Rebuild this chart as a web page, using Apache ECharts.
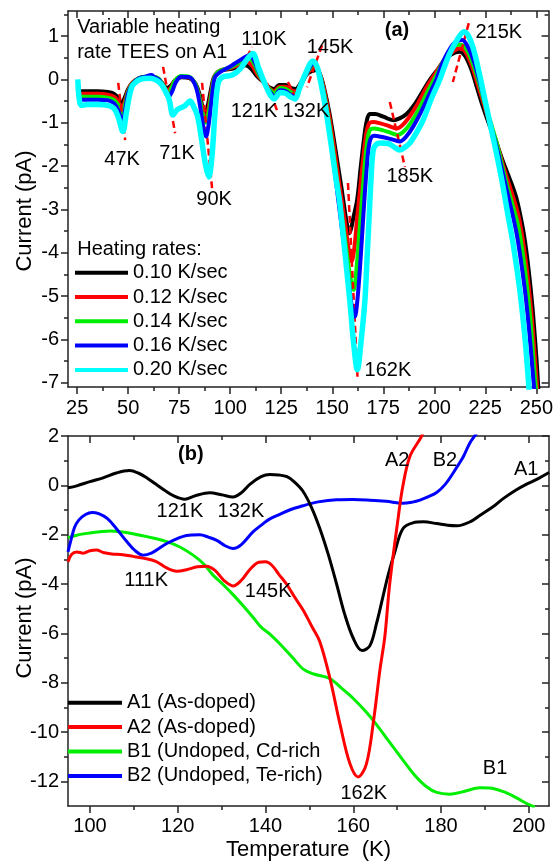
<!DOCTYPE html>
<html><head><meta charset="utf-8">
<script src="https://cdn.jsdelivr.net/npm/echarts@6/dist/echarts.min.js"></script>
<style>html,body{margin:0;padding:0;background:#fff}#c{width:556px;height:862px}</style>
</head><body><div id="c"></div>
<script>
// ---------- Panel (a): variable heating rate TEES on A1 ----------
const topRates = ['0.10 K/sec', '0.12 K/sec', '0.14 K/sec', '0.16 K/sec', '0.20 K/sec'];
const topXTicks = [25, 50, 75, 100, 125, 150, 175, 200, 225, 250];
const topYTicks = [-7, -6, -5, -4, -3, -2, -1, 0, 1];

const rate010 = [[25.5,-0.12],[26.5,-0.27],[30,-0.27],[35,-0.27],[40,-0.29],[43,-0.33],[45,-0.42],[46.8,-0.55],[48.3,-0.42],[50,-0.22],[52,-0.08],[55,0.02],[58,0.05],[62,0.05],[65,0.0],[67,-0.1],[69,-0.2],[71,-0.14],[73,-0.02],[76,0.05],[80,0.03],[83,-0.1],[85,-0.35],[86.5,-0.65],[87.7,-0.78],[89,-0.6],[90.5,-0.25],[92,0.05],[95,0.2],[100,0.24],[104,0.28],[107.3,0.33],[110,0.26],[113,0.08],[116,-0.05],[119,-0.18],[121.5,-0.22],[124,-0.13],[127,-0.13],[130,-0.2],[132,-0.22],[135,-0.05],[138,0.14],[140.5,0.2],[142.3,0.22],[144.5,0.05],[146.5,-0.3],[148.5,-0.75],[150.5,-1.3],[152.5,-1.9],[154.5,-2.5],[156.5,-3.15],[157.5,-3.42],[158.2,-3.55],[159.2,-3.45],[160.3,-3.2],[162.2,-2.78],[164,-2.0],[165.5,-1.4],[166.8,-0.98],[168.4,-0.8],[171,-0.8],[175,-0.86],[179.9,-0.94],[183,-0.9],[186.4,-0.8],[190,-0.6],[194,-0.3],[197.8,-0.01],[202,0.25],[206,0.5],[210,0.62],[212.5,0.64],[215,0.55],[218,0.25],[221,-0.2],[224,-0.65],[227,-1.05],[230,-1.4],[233.7,-1.9],[237,-2.3],[240,-2.7],[242,-3.1],[244,-3.6],[246,-4.3],[248,-5.2],[250,-6.4],[251.2,-7.3]];
const rate012 = [[25.5,-0.15],[26.5,-0.33],[30,-0.33],[35,-0.33],[40,-0.35],[43,-0.4],[45,-0.5],[47,-0.66],[48.5,-0.48],[50,-0.25],[52,-0.08],[55,0.02],[58,0.05],[62,0.05],[65,0.0],[67,-0.12],[69.3,-0.25],[71,-0.18],[73,-0.03],[76,0.06],[80,0.04],[83,-0.12],[85,-0.42],[86.7,-0.78],[87.9,-0.9],[89.2,-0.7],[90.7,-0.3],[92.2,0.05],[95,0.2],[100,0.26],[104,0.33],[108,0.4],[110.5,0.33],[113.5,0.1],[116.5,-0.07],[119.5,-0.22],[121.5,-0.27],[124.2,-0.17],[127,-0.17],[130,-0.25],[132,-0.28],[135,-0.08],[138,0.16],[141,0.27],[142.5,0.26],[144.5,0.05],[146.5,-0.35],[148.5,-0.85],[150.5,-1.45],[152.5,-2.1],[154.5,-2.75],[156.5,-3.4],[158,-3.9],[159.5,-4.2],[160.8,-3.9],[162,-3.3],[163.5,-2.6],[165,-1.9],[166.5,-1.3],[168,-1.02],[170,-0.98],[174,-1.02],[178,-1.08],[181.5,-1.13],[184.5,-1.05],[188,-0.85],[192,-0.55],[196,-0.2],[200,0.1],[204.2,0.4],[208,0.6],[211,0.7],[213,0.72],[215.5,0.62],[218.5,0.3],[221.5,-0.15],[224.5,-0.6],[227.5,-1.05],[230.5,-1.45],[233.5,-1.95],[236.5,-2.4],[239.5,-2.85],[241.5,-3.2],[243.5,-3.75],[245.5,-4.45],[247.5,-5.35],[249.5,-6.55],[250.7,-7.3]];
const rate014 = [[25.5,-0.2],[26.5,-0.4],[30,-0.4],[35,-0.4],[40,-0.42],[43,-0.47],[45,-0.58],[47.1,-0.78],[48.6,-0.55],[50,-0.28],[52,-0.1],[55,0.02],[58,0.06],[62,0.06],[65,0.02],[67,-0.12],[69.5,-0.3],[71.2,-0.2],[73,-0.02],[76,0.08],[80,0.06],[83,-0.12],[85,-0.45],[86.8,-0.85],[88,-1.0],[89.3,-0.8],[90.8,-0.35],[92.3,0.05],[95,0.2],[100,0.28],[104,0.38],[108.5,0.5],[111,0.42],[114,0.12],[117,-0.1],[120,-0.26],[121.5,-0.32],[124.3,-0.2],[127,-0.22],[130,-0.3],[132,-0.34],[135,-0.1],[138,0.18],[141,0.32],[142.3,0.3],[144.3,0.05],[146.3,-0.4],[148.3,-0.95],[150.3,-1.6],[152.3,-2.3],[154.3,-3.0],[156.3,-3.7],[158.3,-4.4],[160.5,-4.86],[162,-4.3],[163.5,-3.4],[165,-2.5],[166.7,-1.6],[168.3,-1.18],[170.5,-1.13],[174.5,-1.17],[178.5,-1.23],[182,-1.28],[185,-1.2],[188.5,-1.0],[192.5,-0.68],[196.5,-0.3],[200.5,0.05],[204.2,0.4],[208.5,0.7],[211.5,0.8],[213.3,0.8],[216,0.68],[219,0.35],[222,-0.1],[225,-0.6],[228,-1.05],[230.8,-1.5],[233.3,-2.0],[236,-2.5],[239,-3.0],[241,-3.35],[243,-3.9],[245,-4.6],[247,-5.5],[249,-6.7],[250.2,-7.3]];
const rate016 = [[25.5,-0.25],[26.5,-0.47],[30,-0.47],[35,-0.47],[40,-0.48],[43,-0.55],[45,-0.7],[47.2,-0.98],[48.7,-0.65],[50,-0.32],[52,-0.12],[55,0.02],[58,0.06],[61.5,0.1],[63,0.05],[65,0.0],[67,-0.15],[69.8,-0.4],[71.5,-0.28],[73.5,-0.05],[76,0.06],[80,0.05],[83,-0.15],[85,-0.55],[86.8,-1.1],[88.1,-1.32],[89.4,-1.05],[90.9,-0.45],[92.5,0.05],[95,0.17],[100,0.3],[104,0.42],[109.4,0.55],[111.5,0.45],[114.5,0.12],[117.5,-0.15],[120,-0.32],[121.7,-0.4],[124.4,-0.25],[127,-0.27],[130,-0.37],[131.8,-0.4],[134.5,-0.15],[137.5,0.15],[140.8,0.37],[142.3,0.32],[144.2,0.05],[146.2,-0.45],[148.2,-1.05],[150.2,-1.75],[152.2,-2.5],[154.2,-3.25],[156.2,-4.0],[158.2,-4.75],[159.8,-5.3],[161,-5.48],[162.3,-5.1],[163.8,-4.2],[165.3,-3.1],[166.8,-2.1],[168.3,-1.45],[170.5,-1.3],[174.5,-1.33],[179,-1.38],[183,-1.43],[186,-1.33],[189.5,-1.1],[193.5,-0.75],[197.5,-0.35],[201,0.0],[204.2,0.4],[209,0.8],[212,0.9],[213.7,0.91],[216.5,0.75],[219.5,0.4],[222.5,-0.1],[225.5,-0.65],[228.5,-1.2],[231,-1.65],[233.5,-2.15],[236,-2.65],[238.5,-3.15],[240.5,-3.6],[242.5,-4.2],[244.5,-4.9],[246.5,-5.8],[248.5,-6.9],[249.5,-7.4]];
const rate020 = [[25.3,0.0],[26,-0.45],[27,-0.6],[30,-0.58],[35,-0.58],[40,-0.6],[43,-0.67],[45,-0.85],[47.4,-1.2],[49,-0.8],[50.5,-0.4],[52,-0.15],[54,-0.05],[56,0.0],[58,0.02],[61,0.03],[64,-0.02],[66,-0.1],[68,-0.25],[70,-0.45],[72,-0.82],[74,-0.7],[76,-0.65],[78,-0.6],[80.3,-0.5],[82,-0.62],[84,-0.85],[86,-1.4],[88,-2.0],[89.5,-2.25],[91,-1.8],[92.5,-0.8],[94,-0.1],[96,0.05],[101,0.1],[105,0.25],[108,0.45],[111,0.6],[114,0.25],[117,-0.1],[119.5,-0.35],[121.5,-0.45],[124.5,-0.3],[127,-0.32],[129.5,-0.4],[131.6,-0.45],[134,-0.2],[137,0.15],[140.5,0.42],[142.5,0.3],[144.5,-0.1],[146.5,-0.6],[148.5,-1.2],[150.5,-1.85],[152,-2.35],[153.5,-2.78],[156,-3.9],[158.6,-5.1],[160.5,-6.1],[162.3,-6.7],[164,-6.1],[166,-5.1],[167.2,-4.0],[168,-3.25],[169,-2.3],[170,-1.65],[171.5,-1.5],[174,-1.47],[177.4,-1.48],[180,-1.55],[183.1,-1.63],[186,-1.55],[188,-1.47],[191,-1.25],[194.5,-0.94],[198.5,-0.45],[202.7,0.0],[205,0.3],[207.6,0.6],[211,0.9],[214.6,1.1],[217,0.98],[219.5,0.65],[222,0.15],[224.5,-0.4],[227,-0.95],[230,-1.6],[233,-2.3],[236,-3.1],[239,-3.9],[242,-4.9],[244.5,-6.0],[246.5,-7.2]];

// red dashed guide lines [T1, I1, T2, I2]
const topGuides = [[45.1,-0.08,48.5,-1.40],[67.1,0.29,73.0,-1.24],[86.2,-0.08,91.1,-2.51],[105.8,0.29,110.7,0.75],[118.0,-0.08,122.9,-0.71],[128.3,-0.06,132.7,-0.48],[145.0,0.79,137.6,-0.18],[157.7,-2.39,162.4,-6.89],[178.2,-0.52,185.6,-2.02],[216.9,1.30,209.1,-0.06]];
// peak labels [text, T, I]
const topLabels = [['47K',47.0,-1.84],['71K',73.9,-1.70],['90K',92.1,-2.76],['110K',116.5,0.93],['121K',111.7,-0.73],['132K',137.1,-0.73],['145K',148.9,0.73],['185K',188.0,-2.23],['215K',231.6,1.09],['162K',177.3,-6.73]];

// ---------- Panel (b): four samples ----------
const botNames = ['A1 (As-doped)', 'A2 (As-doped)', 'B1 (Undoped, Cd-rich', 'B2 (Undoped, Te-rich)'];
const botXTicks = [100, 120, 140, 160, 180, 200];
const botYTicks = [-12, -10, -8, -6, -4, -2, 0, 2];

const sampleA1 = [[95,-0.1],[97,-0.02],[100,0.15],[103,0.3],[106,0.5],[109,0.6],[111,0.5],[113,0.3],[115,0.05],[117,-0.2],[119,-0.42],[121.6,-0.56],[124,-0.42],[127.3,-0.3],[130,-0.38],[132.6,-0.47],[134.5,-0.3],[136.5,0.05],[139,0.35],[141,0.44],[143,0.42],[144.9,0.35],[146.5,0.15],[148.5,-0.23],[150.5,-0.9],[152.4,-1.76],[154.3,-2.8],[156.2,-4.0],[158,-5.2],[160,-6.2],[162,-6.7],[163.8,-6.5],[165.3,-5.6],[166.7,-4.56],[168,-3.6],[169.5,-2.68],[171.3,-1.76],[173.6,-1.52],[176,-1.48],[179,-1.55],[181.5,-1.62],[183.6,-1.64],[186.6,-1.48],[189,-1.2],[192,-0.85],[194,-0.56],[197,-0.2],[199.5,0.05],[201.8,0.24],[204.6,0.52]];
const sampleA2 = [[95,-3.1],[95.8,-2.8],[97,-2.7],[98.5,-2.75],[100,-2.65],[101.5,-2.62],[103,-2.72],[105,-2.78],[107,-2.8],[109.8,-2.88],[112,-2.95],[115,-3.08],[117.5,-3.35],[119.8,-3.48],[122,-3.42],[124.5,-3.3],[126.6,-3.28],[128.5,-3.45],[130.5,-3.85],[132.6,-4.08],[134.5,-3.85],[136.5,-3.4],[138.5,-3.12],[140,-3.1],[141.5,-3.25],[143,-3.6],[144.9,-4.03],[146.7,-4.55],[148.6,-5.06],[150.5,-5.7],[152.4,-6.35],[154.7,-7.84],[157,-9.7],[159.25,-11.29],[161.1,-11.82],[163,-11.29],[164.6,-9.57],[166.1,-7.45],[167.2,-6.12],[168.3,-4.0],[170.2,-1.36],[171.3,-0.03],[172.9,1.17],[175.5,1.97],[176.2,2.3]];
const sampleB1 = [[95,-2.12],[97,-2.02],[100,-1.93],[102.3,-1.88],[104.6,-1.85],[107,-1.88],[109.8,-1.96],[113,-2.08],[117.5,-2.28],[120.5,-2.5],[123.5,-2.83],[126,-3.2],[128,-3.63],[130.5,-4.05],[132.6,-4.43],[135,-4.9],[137.2,-5.36],[139,-5.75],[141,-6.03],[143.3,-6.43],[146,-6.95],[148.6,-7.45],[151,-7.65],[154.7,-7.84],[157.5,-8.25],[160,-8.64],[163,-9.2],[165.3,-9.7],[168,-10.35],[171.4,-11.16],[174,-11.75],[176.7,-12.22],[179,-12.45],[182,-12.52],[185,-12.42],[188.9,-12.26],[191,-12.27],[194.2,-12.42],[197,-12.65],[199.5,-12.9],[201.4,-13.05]];
const sampleB2 = [[95,-2.7],[95.7,-2.2],[96.5,-1.7],[97.5,-1.4],[99,-1.18],[100.5,-1.1],[102,-1.15],[104,-1.35],[106,-1.75],[108.4,-2.28],[110.3,-2.65],[112.1,-2.83],[114,-2.75],[115.8,-2.55],[117.5,-2.36],[120,-2.15],[122,-2.03],[125,-2.0],[127,-2.1],[128.9,-2.23],[130.8,-2.45],[132.6,-2.56],[134.5,-2.4],[137.2,-1.88],[139.5,-1.55],[141,-1.36],[143,-1.2],[145.5,-1.0],[148.5,-0.83],[152,-0.67],[156.2,-0.58],[160,-0.57],[163.8,-0.6],[167.5,-0.65],[171.3,-0.73],[173.5,-0.68],[175.2,-0.6],[177,-0.47],[179,-0.29],[181,0.05],[182.8,0.51],[184,0.85],[185.1,1.17],[186.6,1.73],[188.1,2.1]];

const botLabels = [['121K',120.5,-1.06],['132K',134.4,-1.06],['111K',112.8,-3.85],['145K',140.6,-4.29],['A2',170.0,1.0],['B2',180.9,1.0],['A1',199.4,0.65],['162K',162.4,-12.48],['B1',192.3,-11.49]];

// ---------- styling ----------
const FONT = '"Liberation Sans", Arial, sans-serif';
const AX = '#222';
const topColors = ['#000000', '#ff0000', '#00ee00', '#0000ff', '#00ffff'];
const topWidths = [4, 4, 4, 4, 5.5];
const botColors = ['#000000', '#ff0000', '#00ee00', '#0000ff'];

function mkAxis(gridIndex, min, max, ticks, position, showLabels, margin) {
  const step = ticks[1] - ticks[0];
  return {
    type: 'value', gridIndex, min, max, position,
    minInterval: step, maxInterval: step,
    axisLine: { show: true, onZero: false, lineStyle: { color: AX, width: 1.5 } },
    axisTick: { show: true, inside: position === 'top' || position === 'right', length: 7, customValues: ticks, lineStyle: { color: AX, width: 1.5 } },
    minorTick: { show: true, splitNumber: 2, length: 4, lineStyle: { color: AX, width: 1.5 } },
    axisLabel: { show: showLabels, interval: 0, customValues: ticks, margin: margin, color: '#000', fontSize: 20, fontFamily: FONT },
    splitLine: { show: false }, minorSplitLine: { show: false }
  };
}

const topData = [rate010, rate012, rate014, rate016, rate020];
const botData = [sampleA1, sampleA2, sampleB1, sampleB2];
const botZ = [4, 5, 2, 3];

const seriesList = [];
topRates.forEach((name, i) => {
  const s = {
    type: 'line', name, xAxisIndex: 0, yAxisIndex: 0, data: topData[i],
    showSymbol: false, smooth: 0.35, clip: true, z: 2 + i,
    lineStyle: { color: topColors[i], width: topWidths[i] }, itemStyle: { color: topColors[i] }
  };
  if (i === 4) {
    s.markLine = {
      silent: true, symbol: ['none', 'none'], label: { show: false }, animation: false,
      lineStyle: { color: '#ff0000', type: [7, 4], width: 2.5 },
      data: topGuides.map(g => [{ coord: [g[0], g[1]] }, { coord: [g[2], g[3]] }])
    };
  }
  seriesList.push(s);
});
botNames.forEach((name, i) => {
  seriesList.push({
    type: 'line', name, xAxisIndex: 2, yAxisIndex: 2, data: botData[i],
    showSymbol: false, smooth: 0.35, clip: true, z: botZ[i],
    lineStyle: { color: botColors[i], width: 3 }, itemStyle: { color: botColors[i] }
  });
});

const xb = mkAxis(1, 95, 204.6, botXTicks, 'bottom', true, 10);
xb.name = 'Temperature  (K)';
xb.nameLocation = 'middle';
xb.nameGap = 33;
xb.nameTextStyle = { fontSize: 22, fontFamily: FONT, color: '#000' };

const option = {
  animation: false,
  backgroundColor: '#fff',
  grid: [
    { left: 68, top: 11, width: 481, height: 376 },
    { left: 68, top: 436, width: 481, height: 377 }
  ],
  xAxis: [
    mkAxis(0, 20.5, 256, topXTicks, 'bottom', true, 11),
    mkAxis(0, 20.5, 256, topXTicks, 'top', false, 8),
    xb,
    mkAxis(1, 95, 204.6, botXTicks, 'top', false, 8)
  ],
  yAxis: [
    mkAxis(0, -7.1, 1.58, topYTicks, 'left', true, 9),
    mkAxis(0, -7.1, 1.58, topYTicks, 'right', false, 9),
    mkAxis(1, -13, 2, botYTicks, 'left', true, 9),
    mkAxis(1, -13, 2, botYTicks, 'right', false, 9)
  ],
  legend: [
    { data: topRates, orient: 'vertical', left: 75, top: 262.7, padding: 0, itemWidth: 53, itemHeight: 4, itemGap: 4.3,
      icon: 'rect', selectedMode: false, textStyle: { fontSize: 20, lineHeight: 20, fontFamily: FONT, color: '#000' } },
    { data: botNames, orient: 'vertical', left: 68, top: 692.7, padding: 0, itemWidth: 54, itemHeight: 4, itemGap: 4.4,
      icon: 'rect', selectedMode: false, textStyle: { fontSize: 20, lineHeight: 20, fontFamily: FONT, color: '#000' } }
  ],
  series: seriesList
};

const chart = echarts.init(document.getElementById('c'), null, { renderer: 'canvas' });
chart.setOption(option);

function txt(text, x, y, opts) {
  opts = opts || {};
  return {
    type: 'text', x, y, rotation: opts.rotation || 0, z: 100,
    style: {
      text, fill: '#000',
      font: (opts.bold ? 'bold ' : '') + (opts.size || 20) + 'px ' + FONT,
      align: opts.align || 'center', verticalAlign: 'middle',
      textAlign: opts.align || 'center', textVerticalAlign: 'middle'
    }
  };
}
const g = [];
topLabels.forEach(l => { const p = chart.convertToPixel({ seriesIndex: 0 }, [l[1], l[2]]); g.push(txt(l[0], p[0], p[1])); });
botLabels.forEach(l => { const p = chart.convertToPixel({ seriesIndex: 5 }, [l[1], l[2]]); g.push(txt(l[0], p[0], p[1])); });
let p = chart.convertToPixel({ seriesIndex: 0 }, [181.7, 1.14]); g.push(txt('(a)', p[0], p[1], { bold: true }));
p = chart.convertToPixel({ seriesIndex: 5 }, [123.0, 1.24]); g.push(txt('(b)', p[0], p[1], { bold: true }));
p = chart.convertToPixel({ seriesIndex: 0 }, [25, 1.21]); g.push(txt('Variable heating', p[0], p[1], { align: 'left' }));
p = chart.convertToPixel({ seriesIndex: 0 }, [25, 0.63]); g.push(txt('rate TEES on A1', p[0], p[1], { align: 'left' }));
p = chart.convertToPixel({ seriesIndex: 0 }, [25, -3.92]); g.push(txt('Heating rates:', p[0], p[1], { align: 'left' }));
g.push(txt('Current (pA)', 25, 211, { rotation: Math.PI / 2, size: 22 }));
g.push(txt('Current (pA)', 25, 618, { rotation: Math.PI / 2, size: 22 }));
chart.setOption({ graphic: g });
</script>
</body></html>
